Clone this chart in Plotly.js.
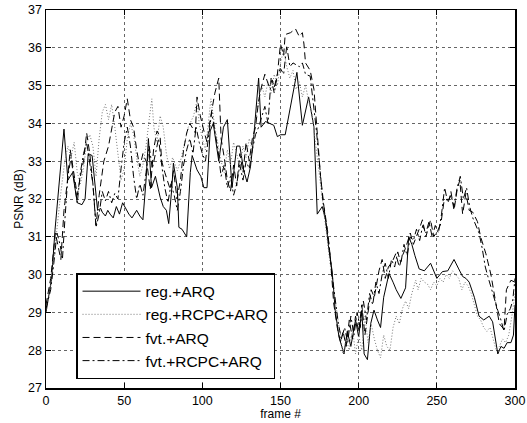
<!DOCTYPE html>
<html>
<head>
<meta charset="utf-8">
<script src="https://cdn.plot.ly/plotly-3.0.1.min.js"></script>
<style>html,body{margin:0;padding:0;background:#fff;}#chart{width:527px;height:423px;}</style>
</head>
<body>
<div id="chart"></div>
<script>
// ---- data ----
var seriesNames = ['reg.+ARQ', 'reg.+RCPC+ARQ', 'fvt.+ARQ', 'fvt.+RCPC+ARQ'];
var xTicks = [0, 50, 100, 150, 200, 250, 300];
var yTicks = [27, 28, 29, 30, 31, 32, 33, 34, 35, 36, 37];

var framesReg = [0,3.6,5.8,9,11.5,14,15.5,17,20,23,25,27,29.5,31,33,35,36,38,39.5,41,43,45,47,49,51,53,55,58,60,62,64,65.5,67.5,70,73,75,77,78.5,80.5,81.5,84,85,87,90,92.3,93.5,96.6,99,101,103,105,107,110.5,113.5,116,119,122,124,126.5,128.6,130.8,133,136,137.6,140.4,143.6,145.7,148,150,153,156.4,160.5,164,168,171.4,173.5,176.7,178.8,181,183,185,187.4,190.6,192.7,195,198,200,202,203.5,205.6,207.7,209.8,212,214,216,219.4,222,224,227,230,232,234,236,238.7,242,244,246,250,253.6,257,261,264,266.5,268.6,270.7,274,277,280,283.5,285.7,287.8,289,291,293,295,297.4,299,300];
var psnrReg = [29.0,29.9,31.2,32.8,33.85,32.5,32.6,32.7,31.9,31.85,32.0,33.2,33.15,32.6,31.7,31.75,31.65,31.55,31.7,31.6,31.5,31.8,31.6,31.9,31.75,31.6,31.5,31.7,31.55,31.45,32.5,33.6,32.3,32.6,32.05,31.8,31.7,31.35,32.3,32.95,32.3,31.25,31.2,31.0,32.7,33.15,32.77,32.6,32.3,32.3,33.8,34.0,33.0,33.9,34.1,32.3,33.4,33.4,32.75,32.45,32.85,33.7,35.2,33.9,34.05,34.0,33.95,33.65,33.7,33.7,34.45,35.35,33.95,34.7,33.9,31.6,31.8,31.45,30.65,30.1,29.05,28.35,27.9,28.5,28.1,28.8,28.35,29.05,27.9,27.75,28.7,29.06,28.8,28.6,29.4,30.03,29.8,29.6,29.37,29.65,31.0,30.8,30.5,30.15,30.1,30.2,30.3,29.9,30.08,30.1,30.4,30.15,29.95,29.9,29.8,29.4,28.9,28.8,28.9,28.75,28.15,27.9,28.1,28.05,28.2,28.2,28.4,29.2];

var framesRegRcpc = [0,3,6,9,12,14,16,18,20,22,24,26,28,30,32,34,36,38,40,42,44,46,48,50,52,54,56,58,60,62,64,66,67.7,69,71,73,75,77,79,81,84,86,89,91,94.4,96.6,98,100,102,104,105.5,108,110,112,114,116,118,120,122,124,126,128,130,132,134,136,138,140,142,144,146,148,150,152,154,156,158,160,162,164,166,168,170,172,174,176,178,180,182,184,186,188,190,192,194,196,198,200,202,204,206,208,210,212,214,216,218,220,222,224,226,228,230,232,234,236.5,238,240,242,244,246,248,250,252,254,256,258,260,262,264,266,268,270,272,274,276,278,280,282,284,286,288,290,292,294,296,298,300];
var psnrRegRcpc = [29.0,29.7,30.8,32.0,33.0,33.4,33.1,33.5,32.7,32.4,32.8,33.5,33.7,33.4,32.6,33.6,34.3,34.5,34.1,34.5,33.9,33.2,32.5,32.8,33.6,34.0,33.7,33.1,32.6,32.9,33.4,34.1,34.65,33.9,33.5,34.2,33.9,33.2,32.8,33.1,32.75,33.0,33.5,33.9,34.2,34.6,34.0,33.6,33.3,34.0,34.65,33.9,33.4,33.0,32.7,33.3,32.9,33.5,33.2,32.8,33.4,33.1,33.6,33.3,34.0,34.6,35.0,34.7,35.1,34.8,35.3,35.0,35.6,35.95,35.5,35.2,35.4,34.9,35.1,34.7,35.0,34.6,34.3,33.6,33.0,32.2,31.5,30.8,30.2,29.6,29.0,28.4,27.9,28.3,28.0,28.6,27.9,28.4,28.0,28.9,28.2,28.7,28.3,28.0,27.8,28.4,28.1,28.0,28.6,28.9,28.7,29.1,29.3,29.1,29.5,29.85,29.6,29.9,29.8,29.75,29.6,29.8,29.7,29.9,29.8,30.0,29.9,30.1,30.0,29.9,29.6,29.8,29.7,29.5,29.2,28.9,28.8,28.6,28.5,28.6,28.3,28.0,28.1,28.3,28.2,28.4,28.9,29.5];

var framesFvt = [0,3,6,8,9.5,11.5,13.5,15.5,18,20,22,24,26,28,30,32,34,37,40,42,44,46,48,50,52,54,56,58,60,62,64.5,66.7,68.8,71,73,74,76,79.5,81.6,83.8,86,88,90,92,95.5,96.6,98.7,101,103,105,108,110.5,112,114,116,118,120,122,124,126,128,130,132,134,136,138,140,142.5,144.7,146,148,150,152,153,156.4,159.6,162,164,165,166,169,171.4,173.5,175.6,177.8,180,182,184,186.3,188.5,190,192,194,196,198,200,202,204,206,208,210,213,215,217,219,221.6,223.7,226,228,230,233,235,238.7,240.8,243,246,248,251,252.6,254.7,258,259,261,263,264.7,266.5,268.6,270.7,273,276,278,281.4,284.6,287.8,290,293,294.5,297.4,300];
var psnrFvt = [29.2,29.9,31.1,30.7,30.4,31.7,32.4,33.3,32.6,32.1,32.6,33.0,33.75,33.2,32.4,31.3,32.1,33.0,33.4,33.9,34.3,34.45,33.9,34.2,34.65,34.1,33.9,33.3,32.85,33.2,32.95,32.25,33.3,33.8,33.65,33.0,32.7,32.25,32.75,32.0,32.5,33.3,33.75,34.0,33.75,34.7,34.2,33.8,33.5,34.1,34.8,35.2,33.6,33.1,32.5,32.2,32.9,32.35,33.2,32.7,33.5,33.0,33.6,33.9,34.6,35.0,35.3,35.0,35.15,34.95,35.3,36.1,35.8,36.35,36.4,36.5,36.3,36.4,36.1,35.6,35.4,34.9,33.65,32.6,31.8,31.2,30.4,29.25,28.6,28.2,28.5,28.1,28.8,28.3,28.9,28.5,29.2,28.4,29.0,29.6,29.4,30.1,30.4,29.9,30.2,30.35,30.55,30.2,30.5,30.7,31.1,30.8,31.2,31.45,31.0,31.45,31.0,31.2,31.35,31.97,32.0,32.2,31.7,32.25,32.5,31.6,32.15,31.7,31.65,31.4,31.0,30.55,30.0,29.25,28.7,28.55,29.6,29.85,29.8];

var framesFvtRcpc = [0,3,5,7,9,10.5,12,14,16,18,20,22,24,26,28,30,32,34,36,38,40,42,44,46,48,50,52,54,56,58,60,62,64,66,68,70,72,74,76,78,80,82,84,86,88,90,92,94,96,98,100,102,104,106,108,110,112,114,116,118,120,122,124,126,128,130,132,134,136,138,140,142,144,146,148,150,152,154,156,158,160,162,164,166,169,171,173,175,177,179,181,183,185,187,189,191,193,195,197,199,201,203,205,207,209,211,213,215,217,219,221,223,225,227,229,231,233,235,237,239,241,243,245,247,249,251,253,255,257,259,261,263,265,267,269,271,273,275,277,279,281,283,285,287,289,291,293,295,297,298.5,300];
var psnrFvtRcpc = [29.1,29.6,30.3,31.1,30.8,30.4,31.4,32.6,33.1,32.5,31.9,32.7,33.2,33.5,32.9,32.4,31.25,31.6,32.2,31.95,32.2,31.9,32.15,32.0,32.8,33.5,33.9,33.4,32.6,32.0,32.4,32.1,32.7,33.4,32.8,33.2,33.6,32.9,32.3,31.9,32.4,32.1,31.7,32.2,32.9,33.3,33.6,33.2,33.9,33.5,33.2,33.0,33.6,34.3,33.8,33.3,32.6,32.9,32.3,32.6,32.1,32.4,32.9,32.5,33.0,32.8,33.3,33.7,33.9,34.2,34.45,34.0,35.2,34.8,35.3,35.45,35.3,36.05,35.5,35.6,35.55,35.5,35.6,35.3,35.25,34.6,33.8,32.9,32.0,31.4,30.8,30.0,29.3,28.7,28.3,28.6,28.2,28.9,28.4,29.0,28.6,29.3,28.8,29.5,29.2,29.8,29.5,30.0,30.3,29.9,30.4,30.2,30.6,30.3,30.8,30.5,31.0,30.9,31.2,30.9,31.3,31.1,31.4,31.0,31.3,31.1,31.6,32.3,31.9,32.1,31.8,32.3,32.6,32.0,32.3,31.8,31.5,31.3,31.1,30.7,30.2,29.9,29.6,29.3,29.05,28.8,28.5,28.95,29.1,29.3,29.9];

// ---- chart ----
var xs = [framesReg, framesRegRcpc, framesFvt, framesFvtRcpc];
var ys = [psnrReg, psnrRegRcpc, psnrFvt, psnrFvtRcpc];
var styles = [
  {color: '#000000', dash: 'solid'},
  {color: '#777777', dash: '1px,2px'},
  {color: '#000000', dash: '7px,4px'},
  {color: '#000000', dash: '7px,3px,2px,3px'}
];
var traces = seriesNames.map(function (name, i) {
  return {
    x: xs[i], y: ys[i], name: name, type: 'scatter', mode: 'lines',
    line: {color: styles[i].color, dash: styles[i].dash, width: 1}
  };
});

var axisCommon = {
  ticks: 'inside', ticklen: 5, tickcolor: '#000', tickwidth: 1,
  showline: true, linecolor: '#000', linewidth: 1.5, mirror: 'ticks',
  showgrid: true, gridcolor: '#666', griddash: 'dot', gridwidth: 1,
  zeroline: false, tickfont: {size: 12.5, color: '#000'}
};

var layout = {
  width: 527, height: 423,
  margin: {l: 46, r: 12, t: 10, b: 35},
  paper_bgcolor: '#fff', plot_bgcolor: '#fff',
  font: {family: '"Liberation Sans", Arial, Helvetica, sans-serif', color: '#000'},
  xaxis: Object.assign({}, axisCommon, {
    range: [0, 300], tickmode: 'array', tickvals: xTicks,
    title: {text: 'frame #', font: {size: 12}, standoff: 2}
  }),
  yaxis: Object.assign({}, axisCommon, {
    range: [27, 37], tickmode: 'array', tickvals: yTicks,
    title: {text: 'PSNR (dB)', font: {size: 12}, standoff: 2}
  }),
  showlegend: true,
  legend: {
    x: 0.064, y: 0.304, xanchor: 'left', yanchor: 'top',
    bgcolor: '#fff', bordercolor: '#000', borderwidth: 1.5,
    font: {size: 15.5, color: '#000'}, itemwidth: 58
  }
};

Plotly.newPlot('chart', traces, layout, {displayModeBar: false, staticPlot: true});
</script>
</body>
</html>
